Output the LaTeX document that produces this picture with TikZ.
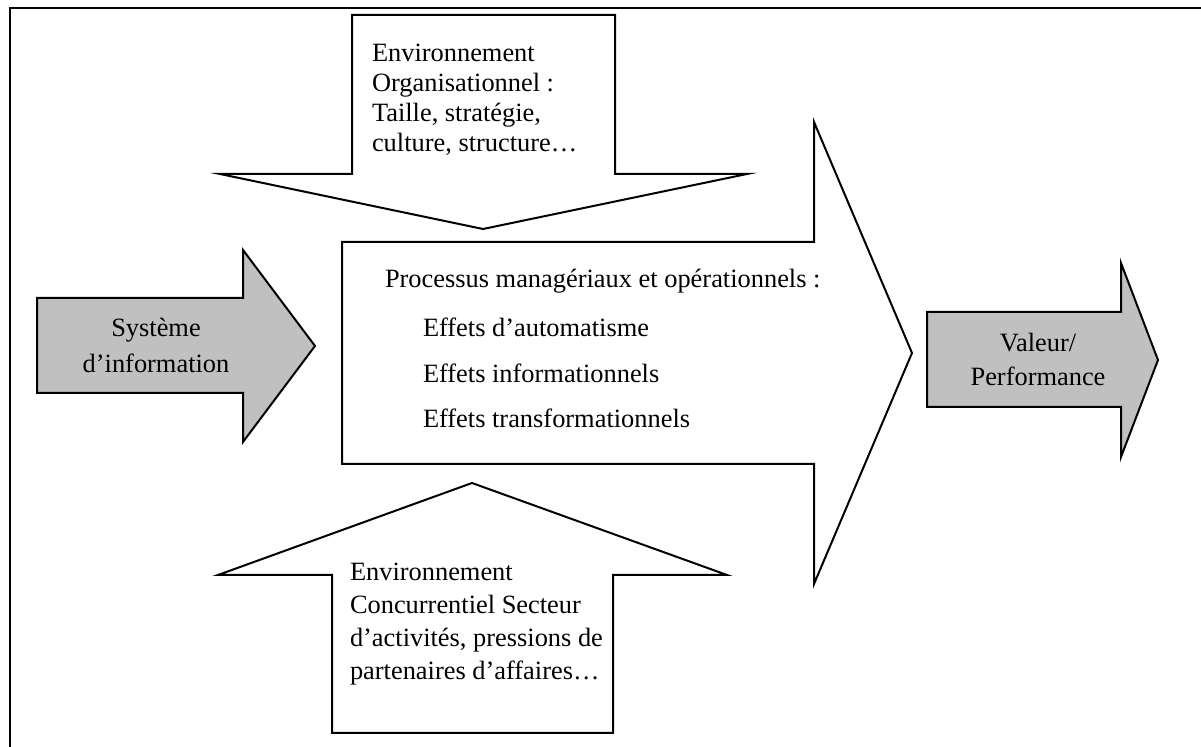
\documentclass[tikz,border=0pt]{standalone}
\usepackage{fontspec}
\setmainfont{Liberation Serif}
\definecolor{arrowgrey}{RGB}{192,192,192}
\begin{document}
\begin{tikzpicture}[x=0.5pt,y=-0.5pt,
  shape line/.style={draw=black, line width=1pt, line join=miter},
  grey arrow/.style={shape line, fill=arrowgrey},
  white arrow/.style={shape line, fill=white},
  label text/.style={inner sep=0pt, outer sep=0pt}]
\useasboundingbox (0,0) rectangle (1201,747);

% page frame (top and left edges)
\coordinate (frameBL) at (10,747);
\coordinate (frameTL) at (10,8);
\coordinate (frameTR) at (1201,8);
\draw[line width=1.1pt] (frameBL) -- (frameTL) -- (frameTR);

% central process arrow
\draw[white arrow] (342,242) -- (814,242) -- (814,122) -- (912,353)
  -- (814,584) -- (814,464) -- (342,464) -- cycle;

% organisational environment, pointing down
\draw[white arrow] (352,15) -- (615,15) -- (615,174) -- (747,174)
  -- (483,229) -- (220,174) -- (352,174) -- cycle;

% competitive environment, pointing up
\draw[white arrow] (332,733) -- (332,575) -- (218,575) -- (472,483)
  -- (727,575) -- (613,575) -- (613,733) -- cycle;

% information system input
\draw[grey arrow] (37,298) -- (243,298) -- (243,250) -- (315,346)
  -- (243,442) -- (243,393) -- (37,393) -- cycle;

% value output
\draw[grey arrow] (927,312) -- (1121,312) -- (1121,263) -- (1158,360)
  -- (1121,457) -- (1121,407) -- (927,407) -- cycle;

% texts (anchored at the baseline of their last line)
\node[label text, anchor=base west, align=left,
      font=\fontsize{13.2}{15}\selectfont] (orgenv) at (372,152)
  {Environnement\\Organisationnel :\\Taille, stratégie,\\culture, structure…};

\node[label text, anchor=base west,
      font=\fontsize{13.2}{16}\selectfont] (process) at (385,288)
  {Processus managériaux et opérationnels :};

\node[label text, anchor=base west, align=left,
      font=\fontsize{13.2}{22.75}\selectfont] (effects) at (423,428)
  {Effets d’automatisme\\Effets informationnels\\Effets transformationnels};

\node[label text, anchor=base west, align=left,
      font=\fontsize{13.2}{16.5}\selectfont] (compenv) at (350,680)
  {Environnement\\Concurrentiel Secteur\\d’activités, pressions de\\partenaires d’affaires…};

\node[label text, anchor=base, align=center,
      font=\fontsize{13.2}{18}\selectfont] (sysinfo) at (156,373)
  {Système\\d’information};

\node[label text, anchor=base, align=center,
      font=\fontsize{13.2}{17}\selectfont] (value) at (1038,386)
  {Valeur/\\Performance};
\end{tikzpicture}
\end{document}
